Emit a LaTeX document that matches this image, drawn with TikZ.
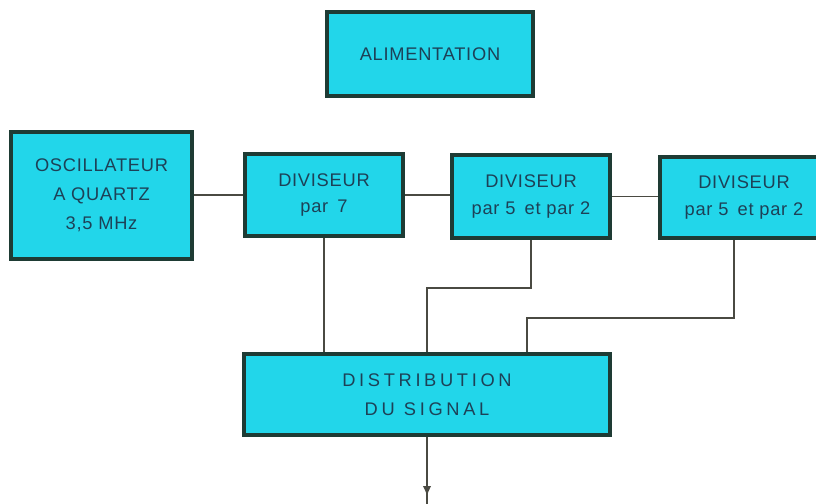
\documentclass[tikz,border=0pt]{standalone}
\usepackage{tikz}
\usetikzlibrary{arrows.meta,calc,positioning}
\usepackage{fontspec}
\setmainfont{Liberation Sans}
\newfontfamily\boxfont[LetterSpace=4]{Liberation Sans}
\newfontfamily\widefont[LetterSpace=20]{Liberation Sans}
\definecolor{blockcyan}{HTML}{22D6EA}
\definecolor{blockedge}{HTML}{1E3B34}
\definecolor{blocktext}{HTML}{1D4157}
\definecolor{wiregray}{HTML}{4A4A42}

\begin{document}
\begin{tikzpicture}[
  x=0.025cm,y=-0.025cm,
  >=Latex,
  block/.style={draw=blockedge,fill=blockcyan,line width=2.8pt,align=center,
    text=blocktext,inner sep=0pt,font=\boxfont\fontsize{13}{19}\selectfont},
  wire/.style={draw=wiregray,line width=1pt}
]
\useasboundingbox (0,0) rectangle (816,504);
\clip (0,0) rectangle (816,504);
\node[block,minimum width=5.15cm,minimum height=2.1cm] (alim) at (430,54) {ALIMENTATION};
\node[block,minimum width=4.525cm,minimum height=3.175cm,
  font=\boxfont\fontsize{13}{20.5}\selectfont] (osc) at (101.5,195.5)
  {OSCILLATEUR\\A QUARTZ\\3,5 MHz};
\node[block,minimum width=3.95cm,minimum height=2.05cm] (divA) at (324,195)
  {DIVISEUR\\par\enspace 7};
\node[block,minimum width=3.95cm,minimum height=2.075cm] (divB) at (531,196.5)
  {DIVISEUR\\par 5\enspace et par 2};
\node[block,minimum width=4.2cm,minimum height=2.025cm] (divC) at (744,197.5)
  {DIVISEUR\\par 5\enspace et par 2};
\node[block,minimum width=9.15cm,minimum height=2.025cm,
  font=\widefont\fontsize{13}{21}\selectfont] (dist) at (427,394.5)
  {DISTRIBUTION\\DU\enspace SIGNAL};
\coordinate (out) at (427,504);
\draw[wire] (osc.east |- divA.west) -- (divA.west);
\draw[wire] (divA.east) -- (divA.east -| divB.west);
\draw[wire] (divB.east) -- (divB.east -| divC.west);
\draw[wire] (divA.south) -- (divA.south |- dist.north);
\draw[wire] (divB.south) -- ++(0,48) -| (dist.north);
\draw[wire] ([xshift=-0.25cm]divC.south) -- ++(0,78) -| ([xshift=2.5cm]dist.north);
\draw[wire] (dist.south) -- (out);
\draw[wire,-{Latex[length=7pt,width=6pt]}] (dist.south) -- ++(0,59);
\end{tikzpicture}
\end{document}
